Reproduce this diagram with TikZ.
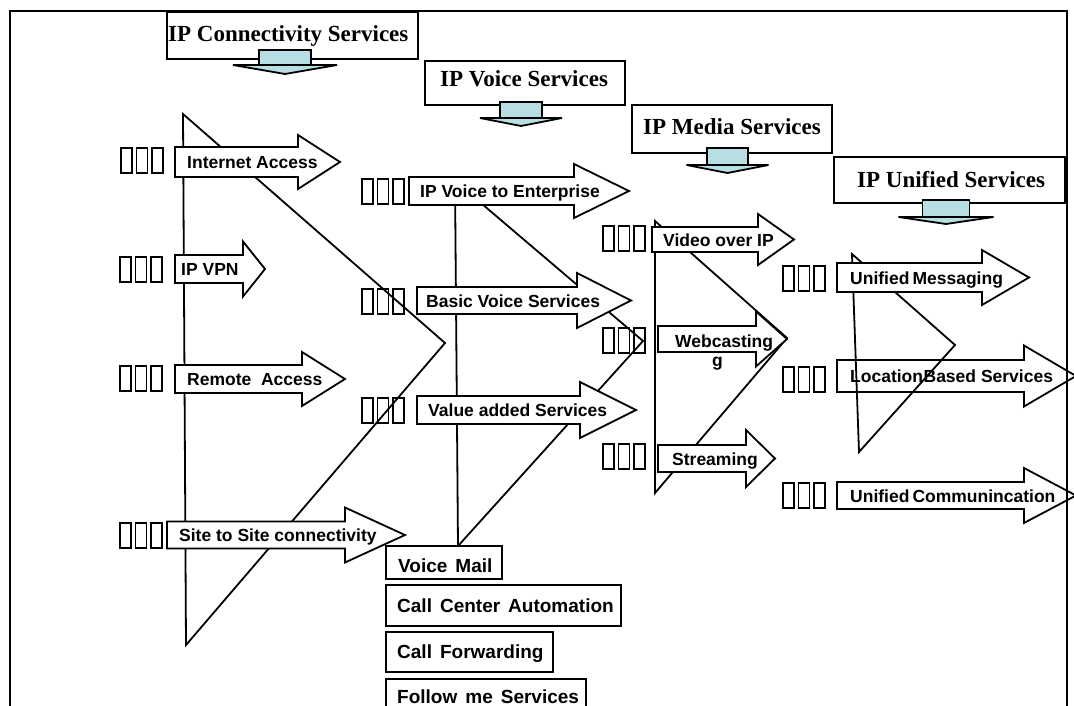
\documentclass[tikz,border=0pt]{standalone}
\usepackage{fontspec}
\setmainfont{Liberation Serif}
\newfontfamily\arialfont{Liberation Sans}
\definecolor{capfill}{RGB}{183,222,226}
\newcommand\widewords{\spaceskip=8pt\relax}
\tikzset{
  outline/.style={draw=black, line width=1.8pt, line join=miter},
  blockarrow/.style={outline, fill=white},
  hollowarrow/.style={outline},
  wedge/.style={draw=black, line width=1.8pt},
  titlebox/.style={outline, fill=white},
  titlecap/.style={outline, fill=capfill},
  itembox/.style={outline, fill=white},
  tofubox/.style={draw=black, line width=1.4pt},
  lbl/.style={inner sep=0pt, anchor=base west, font=\arialfont\bfseries\fontsize{17.5}{20}\selectfont},
  boxlbl/.style={inner sep=0pt, anchor=base west, font=\arialfont\bfseries\fontsize{19}{22}\selectfont\widewords},
  ttl/.style={inner sep=0pt, anchor=base west, font=\bfseries\fontsize{23}{26}\selectfont},
  frame/.style={draw=black, line width=2.6pt},
}
% right-pointing block arrow: [style]{left}{head start}{tip}{centre y}{half body}{half head}
\newcommand\rightblock[7][blockarrow]{%
  \draw[#1] (#2,#5-#6) -- (#3,#5-#6) -- (#3,#5-#7) -- (#4,#5)
    -- (#3,#5+#7) -- (#3,#5+#6) -- (#2,#5+#6) -- cycle;}
% row of three empty glyph boxes: {left}{top}
\newcommand\tofurow[2]{%
  \foreach \k in {0,1,2}{\draw[tofubox] (#1+15.5*\k,#2) rectangle ++(11,25);}}
% small down arrow under a heading: {centre x}{top}{shaft bottom}{shaft half}{head half}{tip}
\newcommand\capdown[6]{%
  \draw[titlecap] (#1-#4,#2) rectangle (#1+#4,#3);
  \draw[titlecap] (#1-#5,#3) -- (#1+#5,#3) -- (#1,#6) -- cycle;}
\begin{document}
\begin{tikzpicture}[x=1pt, y=-1pt]
\clip (0,0) rectangle (1074,706);
\fill[white] (0,0) rectangle (1074,706);

% location arrow sits below the unified wedge
\rightblock[hollowarrow]{837}{1024}{1076}{376}{16}{30.5}

% wedges of each service family
\draw[wedge] (183,114) -- (445,343) -- (186,645) -- cycle;
\draw[wedge] (455,181) -- (643,341) -- (458,546) -- cycle;
\draw[wedge] (655,221) -- (787,338) -- (655,493) -- cycle;
\draw[wedge] (852,254) -- (955,345) -- (859,452) -- cycle;

% service arrows
\rightblock{175}{298}{340}{162}{15}{27}
\rightblock{175}{243}{265}{269}{14}{27.5}
\rightblock{175}{302}{345}{379}{14}{27}
\rightblock{167}{345}{405}{535}{13.5}{27.5}
\rightblock{409}{574}{629}{191}{14}{27}
\rightblock{417}{577}{631}{300.5}{13.5}{27.5}
\rightblock{417}{580}{636}{410}{14}{28}
\rightblock{652}{758}{794}{239.5}{12.5}{25.5}
\rightblock{658}{756}{787}{339}{13}{27.5}
\rightblock{658}{746}{775}{458.5}{13.5}{28.5}
\rightblock{837}{982}{1029}{277.5}{14.5}{27.5}
\rightblock{837}{1024}{1076}{495.5}{13.5}{27.5}

% empty glyph boxes before each label
\tofurow{121}{148}
\tofurow{120}{257}
\tofurow{120}{366}
\tofurow{120}{523}
\tofurow{362}{179}
\tofurow{362}{289}
\tofurow{362}{398}
\tofurow{603}{226}
\tofurow{603}{328}
\tofurow{603}{444}
\tofurow{783}{266}
\tofurow{783}{367}
\tofurow{783}{483}

% arrow labels
\node[lbl] (inet) at (187,168.5) {Internet Access};
\node[lbl] (vpn) at (181,275.5) {IP VPN};
\node[lbl] (remote) at (187,385.5) {Remote~ Access};
\node[lbl] (site) at (179,541) {Site to Site connectivity};
\node[lbl] (ent) at (420,197.5) {IP Voice to Enterprise};
\node[lbl] (basic) at (426,307) {Basic Voice Services};
\node[lbl] (value) at (428,416.5) {Value added Services};
\node[lbl] (video) at (663,246) {Video over IP};
\node[lbl] (webcast) at (675,347.5) {Webcasting};
\node[lbl] (webg) at (712,366) {g};
\node[lbl] (stream) at (672,465) {Streaming};
\node[lbl] (umsg) at (850,284) {Unified\hspace{3pt}Messaging};
\node[lbl] (lbs) at (850,382.5) {Location\hspace{0.5pt}Based Services};
\node[lbl] (ucom) at (850,502) {Unified\hspace{3pt}Communincation};

% headings with their down arrows
\draw[titlebox] (167,12) rectangle (418,59);
\node[ttl] (tconn) at (168,42) {IP Connectivity Services};
\capdown{285}{50}{65}{26}{52}{74}

\draw[titlebox] (425,61) rectangle (625,105);
\node[ttl] (tvoice) at (440,87) {IP Voice Services};
\capdown{521}{102}{118}{21}{41}{126}

\draw[titlebox] (632,105) rectangle (832,153);
\node[ttl] (tmedia) at (643,135) {IP Media Services};
\capdown{727.5}{148}{165}{20.5}{41}{173}

\draw[titlebox] (834,157) rectangle (1065,203);
\node[ttl] (tunif) at (857,187) {IP Unified Services};
\capdown{946}{200}{217}{23.5}{47.5}{224}

% voice feature boxes
\draw[itembox] (386,546) rectangle (502,579);
\node[boxlbl] (vmail) at (398,572) {Voice Mail};
\draw[itembox] (386,585) rectangle (621,626);
\node[boxlbl] (ccauto) at (397,612) {Call Center Automation};
\draw[itembox] (386,632) rectangle (553,672);
\node[boxlbl] (cfwd) at (397,658) {Call Forwarding};
\draw[itembox] (386,679) rectangle (586,725);
\node[boxlbl] (follow) at (397,703) {Follow me Services};

% outer frame, open at the bottom
\draw[frame] (10,720) -- (10,11) -- (1067,11) -- (1067,720);
\end{tikzpicture}
\end{document}
